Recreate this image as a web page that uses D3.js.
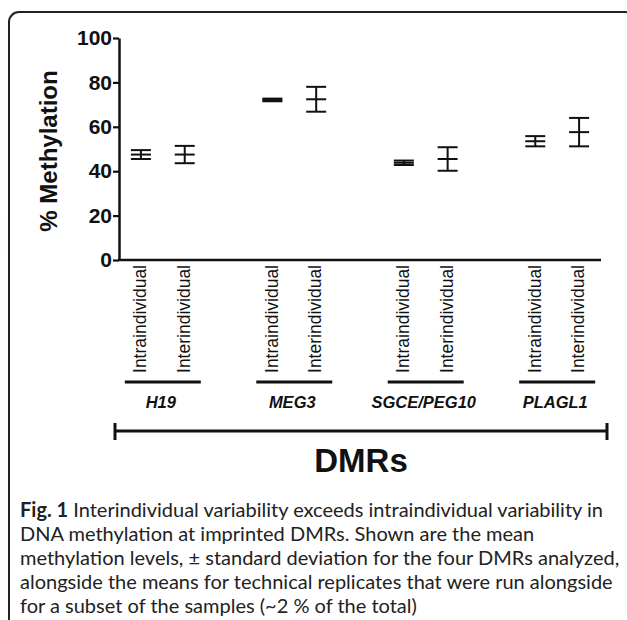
<!DOCTYPE html>
<html>
<head>
<meta charset="utf-8">
<script src="https://cdn.jsdelivr.net/npm/d3@7"></script>
<style>
  html, body { margin: 0; padding: 0; background: #fff; }
  svg { display: block; }
</style>
</head>
<body>
<svg id="chart" width="627" height="620"></svg>
<script>
// ---- data ----
const groups = ["H19", "MEG3", "SGCE/PEG10", "PLAGL1"];
const conditions = ["Intraindividual", "Interindividual"];
const intraMean = [47.5, 72.1, 43.8, 53.5];
const intraSD   = [2.0, 0.6, 1.0, 2.3];
const interMean = [47.5, 72.4, 45.5, 57.6];
const interSD   = [3.9, 5.6, 5.3, 6.4];
const yTicks = [0, 20, 40, 60, 80, 100];
const yLabel = "% Methylation";
const xTitle = "DMRs";
const captionLines = [
  ["Fig. 1", " Interindividual variability exceeds intraindividual variability in"],
  ["", "DNA methylation at imprinted DMRs. Shown are the mean"],
  ["", "methylation levels, \u00b1 standard deviation for the four DMRs analyzed,"],
  ["", "alongside the means for technical replicates that were run alongside"],
  ["", "for a subset of the samples (~2 % of the total)"]
];

const points = [];
groups.forEach((g, i) => {
  points.push({ group: g, cond: conditions[0], mean: intraMean[i], sd: intraSD[i] });
  points.push({ group: g, cond: conditions[1], mean: interMean[i], sd: interSD[i] });
});

// ---- layout ----
const svg = d3.select("#chart");
const plot = { left: 119, right: 601, top: 38, bottom: 260 };
const ink = "#111";

// frame
svg.append("rect")
  .attr("x", 9).attr("y", 12)
  .attr("width", 626).attr("height", 640)
  .attr("rx", 10).attr("ry", 10)
  .attr("fill", "none").attr("stroke", "#222").attr("stroke-width", 2);

const x0 = d3.scaleBand().domain(groups).range([plot.left, plot.right])
  .paddingInner(1 / 3).paddingOuter(0);
const x1 = d3.scaleBand().domain(conditions).range([0, x0.bandwidth()]).padding(0);
const y = d3.scaleLinear().domain([0, 100]).range([plot.bottom, plot.top]);
const cx = d => x0(d.group) + x1(d.cond) + x1.bandwidth() / 2;

// y axis
const yAxis = svg.append("g")
  .attr("transform", `translate(${plot.left},0)`)
  .call(d3.axisLeft(y).tickValues(yTicks).tickSize(6).tickSizeOuter(0).tickPadding(1));
yAxis.select(".domain").attr("stroke", ink).attr("stroke-width", 2.5);
yAxis.selectAll(".tick line").attr("stroke", ink).attr("stroke-width", 2.2);
yAxis.selectAll(".tick text")
  .attr("fill", ink)
  .style("font-family", "'Liberation Sans', Arial, sans-serif")
  .style("font-weight", "bold").style("font-size", "21px");

// x axis (baseline only)
const xAxis = svg.append("g")
  .attr("transform", `translate(0,${plot.bottom})`)
  .call(d3.axisBottom(x0).tickSize(0).tickSizeOuter(0).tickFormat(""));
xAxis.select(".domain").attr("stroke", ink).attr("stroke-width", 2.5)
  .attr("d", `M${plot.left - 1},0H${plot.right}`);

// y label
svg.append("text")
  .attr("transform", `translate(57,${(plot.top + plot.bottom) / 2 + 2}) rotate(-90)`)
  .attr("text-anchor", "middle")
  .attr("fill", ink)
  .style("font-family", "'Liberation Sans', Arial, sans-serif")
  .style("font-weight", "bold").style("font-size", "24px")
  .text(yLabel);

// error bars
const capW = 10;
const bars = svg.append("g").attr("stroke", ink).attr("stroke-width", 2).attr("fill", "none");
const eb = bars.selectAll("g").data(points).join("g");
eb.append("line")
  .attr("x1", cx).attr("x2", cx)
  .attr("y1", d => y(d.mean + d.sd)).attr("y2", d => y(d.mean - d.sd));
eb.append("line")
  .attr("x1", d => cx(d) - capW).attr("x2", d => cx(d) + capW)
  .attr("y1", d => y(d.mean + d.sd)).attr("y2", d => y(d.mean + d.sd));
eb.append("line")
  .attr("x1", d => cx(d) - capW).attr("x2", d => cx(d) + capW)
  .attr("y1", d => y(d.mean - d.sd)).attr("y2", d => y(d.mean - d.sd));
eb.append("line")
  .attr("x1", d => cx(d) - capW).attr("x2", d => cx(d) + capW)
  .attr("y1", d => y(d.mean)).attr("y2", d => y(d.mean));

// condition labels (rotated)
svg.append("g").selectAll("text").data(points).join("text")
  .attr("transform", d => `translate(${cx(d)},${plot.bottom + 5}) rotate(-90)`)
  .attr("text-anchor", "end")
  .attr("dy", "0.3em")
  .attr("fill", ink)
  .style("font-family", "'Liberation Sans', Arial, sans-serif")
  .style("font-size", "17.5px")
  .text(d => d.cond);

// group underline and labels
const gc = g => x0(g) + x0.bandwidth() / 2;
svg.append("g").selectAll("line").data(groups).join("line")
  .attr("x1", g => gc(g) - 38).attr("x2", g => gc(g) + 38)
  .attr("y1", 382).attr("y2", 382)
  .attr("stroke", ink).attr("stroke-width", 3);
svg.append("g").selectAll("text").data(groups).join("text")
  .attr("x", g => gc(g) - 2).attr("y", 408)
  .attr("text-anchor", "middle")
  .attr("fill", ink)
  .style("font-family", "'Liberation Sans', Arial, sans-serif")
  .style("font-weight", "bold").style("font-style", "italic").style("font-size", "16.5px")
  .text(g => g);

// DMR bracket
const bx0 = plot.left - 4, bx1 = plot.right + 6, by = 431;
const br = svg.append("g").attr("stroke", ink).attr("stroke-width", 3);
br.append("line").attr("x1", bx0).attr("x2", bx1).attr("y1", by).attr("y2", by);
br.append("line").attr("x1", bx0).attr("x2", bx0).attr("y1", by - 8).attr("y2", by + 9);
br.append("line").attr("x1", bx1).attr("x2", bx1).attr("y1", by - 8).attr("y2", by + 9);

svg.append("text")
  .attr("x", (bx0 + bx1) / 2).attr("y", 472)
  .attr("text-anchor", "middle")
  .attr("fill", ink)
  .style("font-family", "'Liberation Sans', Arial, sans-serif")
  .style("font-weight", "bold").style("font-size", "33px")
  .text(xTitle);

// caption
const cap = svg.append("g")
  .style("font-family", "Lato, 'Open Sans', sans-serif")
  .attr("fill", "#222");
const capTexts = cap.selectAll("text").data(captionLines).join("text")
  .attr("x", 20).attr("y", (d, i) => 517 + i * 24)
  .style("font-size", "18px");
capTexts.each(function(d) {
  const t = d3.select(this);
  if (d[0]) t.append("tspan").style("font-weight", "bold").text(d[0]);
  t.append("tspan").text(d[1]);
});
// fit caption width to reference line length
const ref = capTexts.nodes()[3];
const w = ref.getComputedTextLength();
const fs = 18 * 593 / w;
capTexts.style("font-size", fs + "px");
</script>
</body>
</html>
